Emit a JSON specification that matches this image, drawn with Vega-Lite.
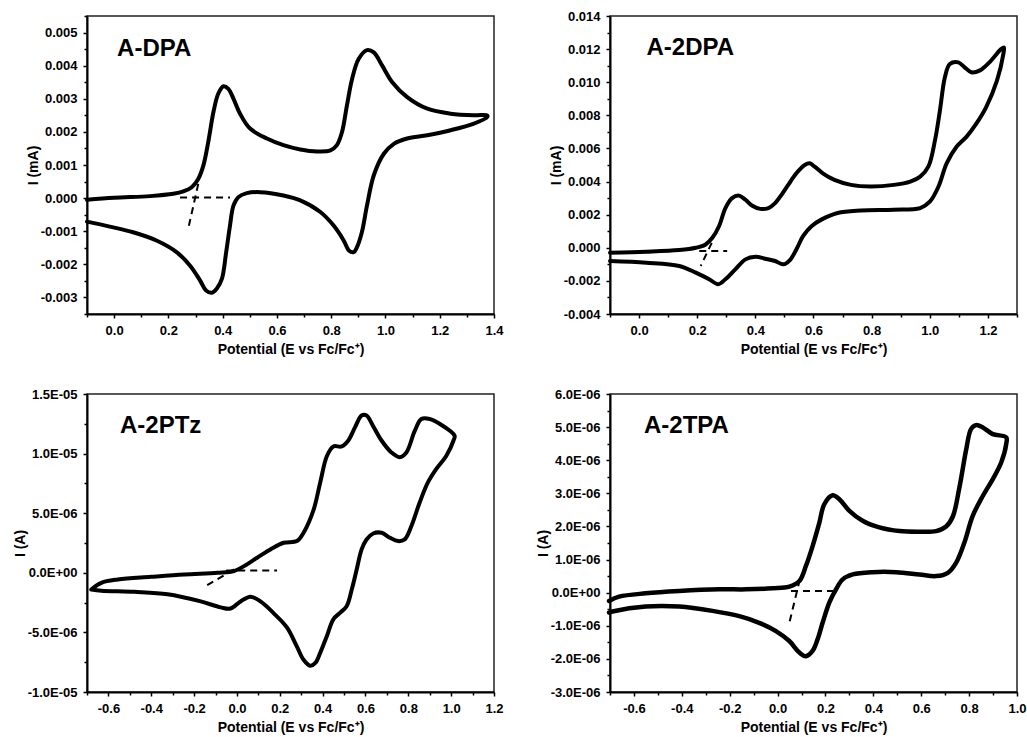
{
"$schema": "https://vega.github.io/schema/vega-lite/v6.json",
"padding": {"left": 12, "top": 9, "right": 5, "bottom": 0},
"columns": 2,
"bounds": "flush",
"spacing": {"row": 80, "column": 116},
"config": {
  "font": "Liberation Sans",
  "locale": {"number": {"decimal": ".", "thousands": ",", "grouping": [3], "currency": ["$", ""], "minus": "-"}},
  "view": {"stroke": "#222222", "strokeWidth": 1.5},
  "axis": {"grid": false, "domainColor": "black", "domainWidth": 2, "tickColor": "black", "tickWidth": 1.5,
    "labelFont": "Liberation Sans", "labelFontSize": 13, "labelFontWeight": "bold", "labelColor": "black",
    "titleFont": "Liberation Sans", "titleFontSize": 14, "titleFontWeight": "bold", "titleColor": "black",
    "labelPadding": 6, "labelOverlap": false, "labelFlush": false, "labelBound": false},
  "axisX": {"titlePadding": 5},
  "axisY": {"titlePadding": 0}
},
"datasets": {
"p1": [
{"i":0,"x":-0.1,"y":-0.00005},{"i":1,"x":0.0,"y":0.00001},{"i":2,"x":0.132,"y":0.00006},{"i":3,"x":0.218,"y":0.00013},{"i":4,"x":0.255,"y":0.0002},{"i":5,"x":0.286,"y":0.00033},{"i":6,"x":0.31,"y":0.00058},{"i":7,"x":0.329,"y":0.00099},{"i":8,"x":0.347,"y":0.0017},{"i":9,"x":0.366,"y":0.0026},{"i":10,"x":0.384,"y":0.00316},{"i":11,"x":0.403,"y":0.00338},{"i":12,"x":0.421,"y":0.0033},{"i":13,"x":0.44,"y":0.003},{"i":14,"x":0.464,"y":0.00255},{"i":15,"x":0.501,"y":0.0021},{"i":16,"x":0.563,"y":0.0018},{"i":17,"x":0.624,"y":0.0016},{"i":18,"x":0.686,"y":0.00147},{"i":19,"x":0.748,"y":0.00141},{"i":20,"x":0.797,"y":0.00144},{"i":21,"x":0.821,"y":0.0016},{"i":22,"x":0.84,"y":0.002},{"i":23,"x":0.858,"y":0.0028},{"i":24,"x":0.877,"y":0.0036},{"i":25,"x":0.901,"y":0.0042},{"i":26,"x":0.932,"y":0.00447},{"i":27,"x":0.957,"y":0.0044},{"i":28,"x":0.988,"y":0.004},{"i":29,"x":1.025,"y":0.0035},{"i":30,"x":1.08,"y":0.00305},{"i":31,"x":1.154,"y":0.0027},{"i":32,"x":1.24,"y":0.00255},{"i":33,"x":1.326,"y":0.0025},{"i":34,"x":1.375,"y":0.0025},
{"i":35,"x":1.375,"y":0.00245},{"i":36,"x":1.326,"y":0.00225},{"i":37,"x":1.24,"y":0.00205},{"i":38,"x":1.154,"y":0.0019},{"i":39,"x":1.08,"y":0.0018},{"i":40,"x":1.031,"y":0.00164},{"i":41,"x":0.994,"y":0.00134},{"i":42,"x":0.957,"y":0.00069},{"i":43,"x":0.932,"y":-0.00022},{"i":44,"x":0.913,"y":-0.00103},{"i":45,"x":0.895,"y":-0.00148},{"i":46,"x":0.883,"y":-0.00163},{"i":47,"x":0.865,"y":-0.00158},{"i":48,"x":0.846,"y":-0.00128},{"i":49,"x":0.809,"y":-0.00083},{"i":50,"x":0.76,"y":-0.00042},{"i":51,"x":0.686,"y":-0.00007},{"i":52,"x":0.624,"y":0.00008},{"i":53,"x":0.538,"y":0.00018},{"i":54,"x":0.489,"y":0.00015},{"i":55,"x":0.458,"y":0.00003},{"i":56,"x":0.44,"y":-0.00022},{"i":57,"x":0.427,"y":-0.00083},{"i":58,"x":0.413,"y":-0.00163},{"i":59,"x":0.397,"y":-0.00244},{"i":60,"x":0.378,"y":-0.00274},{"i":61,"x":0.36,"y":-0.00286},{"i":62,"x":0.339,"y":-0.00279},{"i":63,"x":0.317,"y":-0.00249},{"i":64,"x":0.28,"y":-0.00204},{"i":65,"x":0.23,"y":-0.00163},{"i":66,"x":0.156,"y":-0.00128},{"i":67,"x":0.07,"y":-0.00103},{"i":68,"x":-0.016,"y":-0.00086},{"i":69,"x":-0.1,"y":-0.00071}
],
"p1d": [
{"seg":"h","i":0,"x":0.243,"y":0.00002},{"seg":"h","i":1,"x":0.427,"y":0.00002},
{"seg":"t","i":0,"x":0.31,"y":0.00043},{"seg":"t","i":1,"x":0.273,"y":-0.00093}
],
"p2": [
{"i":0,"x":-0.1,"y":-0.0003},{"i":1,"x":0.025,"y":-0.00024},{"i":2,"x":0.138,"y":-0.00014},{"i":3,"x":0.195,"y":0.0},{"i":4,"x":0.229,"y":0.0002},{"i":5,"x":0.252,"y":0.0006},{"i":6,"x":0.275,"y":0.0013},{"i":7,"x":0.297,"y":0.0024},{"i":8,"x":0.32,"y":0.003},{"i":9,"x":0.343,"y":0.00315},{"i":10,"x":0.366,"y":0.0029},{"i":11,"x":0.388,"y":0.00255},{"i":12,"x":0.417,"y":0.00235},{"i":13,"x":0.445,"y":0.0024},{"i":14,"x":0.468,"y":0.0027},{"i":15,"x":0.49,"y":0.0032},{"i":16,"x":0.513,"y":0.0038},{"i":17,"x":0.541,"y":0.0045},{"i":18,"x":0.57,"y":0.005},{"i":19,"x":0.587,"y":0.0051},{"i":20,"x":0.604,"y":0.0049},{"i":21,"x":0.632,"y":0.0045},{"i":22,"x":0.672,"y":0.0041},{"i":23,"x":0.729,"y":0.0038},{"i":24,"x":0.797,"y":0.0037},{"i":25,"x":0.876,"y":0.0038},{"i":26,"x":0.933,"y":0.004},{"i":27,"x":0.967,"y":0.0043},{"i":28,"x":0.995,"y":0.0049},{"i":29,"x":1.018,"y":0.0065},{"i":30,"x":1.035,"y":0.0083},{"i":31,"x":1.052,"y":0.0103},{"i":32,"x":1.069,"y":0.0111},{"i":33,"x":1.098,"y":0.0112},{"i":34,"x":1.12,"y":0.0109},{"i":35,"x":1.143,"y":0.0106},{"i":36,"x":1.171,"y":0.0107},{"i":37,"x":1.205,"y":0.0112},{"i":38,"x":1.245,"y":0.012},{"i":39,"x":1.255,"y":0.0121},
{"i":40,"x":1.253,"y":0.0117},{"i":41,"x":1.231,"y":0.0101},{"i":42,"x":1.194,"y":0.0085},{"i":43,"x":1.16,"y":0.0075},{"i":44,"x":1.126,"y":0.0067},{"i":45,"x":1.092,"y":0.0061},{"i":46,"x":1.058,"y":0.0051},{"i":47,"x":1.03,"y":0.0037},{"i":48,"x":1.001,"y":0.0028},{"i":49,"x":0.967,"y":0.0024},{"i":50,"x":0.876,"y":0.0023},{"i":51,"x":0.763,"y":0.00225},{"i":52,"x":0.683,"y":0.0021},{"i":53,"x":0.627,"y":0.0017},{"i":54,"x":0.593,"y":0.0013},{"i":55,"x":0.564,"y":0.0007},{"i":56,"x":0.541,"y":-0.0001},{"i":57,"x":0.519,"y":-0.00074},{"i":58,"x":0.496,"y":-0.001},{"i":59,"x":0.468,"y":-0.0008},{"i":60,"x":0.434,"y":-0.00066},{"i":61,"x":0.4,"y":-0.00054},{"i":62,"x":0.366,"y":-0.0007},{"i":63,"x":0.331,"y":-0.0013},{"i":64,"x":0.297,"y":-0.0019},{"i":65,"x":0.272,"y":-0.0022},{"i":66,"x":0.241,"y":-0.0019},{"i":67,"x":0.195,"y":-0.0015},{"i":68,"x":0.138,"y":-0.0011},{"i":69,"x":0.025,"y":-0.0009},{"i":70,"x":-0.1,"y":-0.0008}
],
"p2d": [
{"seg":"h","i":0,"x":0.207,"y":-0.0002},{"seg":"h","i":1,"x":0.303,"y":-0.0002},
{"seg":"t","i":0,"x":0.25,"y":0.0003},{"seg":"t","i":1,"x":0.212,"y":-0.0011}
],
"p3": [
{"i":0,"x":-0.68,"y":-1.4e-6},{"i":1,"x":-0.633,"y":-0.84e-6},{"i":2,"x":-0.556,"y":-0.56e-6},{"i":3,"x":-0.401,"y":-0.34e-6},{"i":4,"x":-0.246,"y":-0.14e-6},{"i":5,"x":-0.091,"y":0.0},{"i":6,"x":-0.014,"y":0.14e-6},{"i":7,"x":0.033,"y":0.56e-6},{"i":8,"x":0.094,"y":1.26e-6},{"i":9,"x":0.156,"y":1.96e-6},{"i":10,"x":0.218,"y":2.52e-6},{"i":11,"x":0.28,"y":2.66e-6},{"i":12,"x":0.311,"y":3.36e-6},{"i":13,"x":0.358,"y":5.3e-6},{"i":14,"x":0.389,"y":7.6e-6},{"i":15,"x":0.42,"y":9.8e-6},{"i":16,"x":0.45,"y":10.6e-6},{"i":17,"x":0.489,"y":10.6e-6},{"i":18,"x":0.52,"y":11.1e-6},{"i":19,"x":0.551,"y":12.2e-6},{"i":20,"x":0.582,"y":13.2e-6},{"i":21,"x":0.605,"y":13.2e-6},{"i":22,"x":0.636,"y":12.3e-6},{"i":23,"x":0.675,"y":11.1e-6},{"i":24,"x":0.721,"y":10.1e-6},{"i":25,"x":0.76,"y":9.7e-6},{"i":26,"x":0.791,"y":10.1e-6},{"i":27,"x":0.83,"y":11.9e-6},{"i":28,"x":0.861,"y":12.9e-6},{"i":29,"x":0.9,"y":12.9e-6},{"i":30,"x":0.946,"y":12.5e-6},{"i":31,"x":1.016,"y":11.5e-6},
{"i":32,"x":1.011,"y":11.1e-6},{"i":33,"x":0.977,"y":9.8e-6},{"i":34,"x":0.93,"y":8.7e-6},{"i":35,"x":0.892,"y":7.6e-6},{"i":36,"x":0.853,"y":5.9e-6},{"i":37,"x":0.814,"y":3.9e-6},{"i":38,"x":0.783,"y":2.8e-6},{"i":39,"x":0.752,"y":2.66e-6},{"i":40,"x":0.714,"y":2.94e-6},{"i":41,"x":0.675,"y":3.36e-6},{"i":42,"x":0.636,"y":3.3e-6},{"i":43,"x":0.605,"y":2.8e-6},{"i":44,"x":0.582,"y":1.96e-6},{"i":45,"x":0.559,"y":0.28e-6},{"i":46,"x":0.536,"y":-1.4e-6},{"i":47,"x":0.512,"y":-2.8e-6},{"i":48,"x":0.481,"y":-3.36e-6},{"i":49,"x":0.45,"y":-3.9e-6},{"i":50,"x":0.42,"y":-5.3e-6},{"i":51,"x":0.389,"y":-6.7e-6},{"i":52,"x":0.366,"y":-7.56e-6},{"i":53,"x":0.342,"y":-7.8e-6},{"i":54,"x":0.311,"y":-7.3e-6},{"i":55,"x":0.28,"y":-6.2e-6},{"i":56,"x":0.234,"y":-4.6e-6},{"i":57,"x":0.172,"y":-3.4e-6},{"i":58,"x":0.11,"y":-2.4e-6},{"i":59,"x":0.063,"y":-2.0e-6},{"i":60,"x":0.017,"y":-2.4e-6},{"i":61,"x":-0.03,"y":-3.0e-6},{"i":62,"x":-0.076,"y":-2.9e-6},{"i":63,"x":-0.169,"y":-2.4e-6},{"i":64,"x":-0.324,"y":-1.8e-6},{"i":65,"x":-0.478,"y":-1.6e-6},{"i":66,"x":-0.633,"y":-1.5e-6},{"i":67,"x":-0.68,"y":-1.4e-6}
],
"p3d": [
{"seg":"h","i":0,"x":-0.05,"y":0.2e-6},{"seg":"h","i":1,"x":0.187,"y":0.2e-6},
{"seg":"t","i":0,"x":-0.014,"y":0.28e-6},{"seg":"t","i":1,"x":-0.153,"y":-1.18e-6}
],
"p4": [
{"i":0,"x":-0.704,"y":-0.25e-6},{"i":1,"x":-0.662,"y":-0.12e-6},{"i":2,"x":-0.551,"y":-0.02e-6},{"i":3,"x":-0.411,"y":0.05e-6},{"i":4,"x":-0.244,"y":0.1e-6},{"i":5,"x":-0.132,"y":0.1e-6},{"i":6,"x":-0.021,"y":0.13e-6},{"i":7,"x":0.049,"y":0.18e-6},{"i":8,"x":0.091,"y":0.35e-6},{"i":9,"x":0.118,"y":0.8e-6},{"i":10,"x":0.146,"y":1.4e-6},{"i":11,"x":0.174,"y":2.1e-6},{"i":12,"x":0.195,"y":2.67e-6},{"i":13,"x":0.23,"y":2.94e-6},{"i":14,"x":0.258,"y":2.82e-6},{"i":15,"x":0.3,"y":2.47e-6},{"i":16,"x":0.355,"y":2.17e-6},{"i":17,"x":0.425,"y":1.97e-6},{"i":18,"x":0.509,"y":1.86e-6},{"i":19,"x":0.592,"y":1.84e-6},{"i":20,"x":0.662,"y":1.86e-6},{"i":21,"x":0.704,"y":2.0e-6},{"i":22,"x":0.732,"y":2.3e-6},{"i":23,"x":0.76,"y":3.2e-6},{"i":24,"x":0.788,"y":4.33e-6},{"i":25,"x":0.808,"y":4.94e-6},{"i":26,"x":0.829,"y":5.06e-6},{"i":27,"x":0.857,"y":4.99e-6},{"i":28,"x":0.899,"y":4.79e-6},{"i":29,"x":0.955,"y":4.69e-6},
{"i":30,"x":0.955,"y":4.49e-6},{"i":31,"x":0.934,"y":3.93e-6},{"i":32,"x":0.899,"y":3.43e-6},{"i":33,"x":0.857,"y":2.92e-6},{"i":34,"x":0.815,"y":2.32e-6},{"i":35,"x":0.78,"y":1.51e-6},{"i":36,"x":0.746,"y":0.91e-6},{"i":37,"x":0.711,"y":0.6e-6},{"i":38,"x":0.662,"y":0.5e-6},{"i":39,"x":0.592,"y":0.55e-6},{"i":40,"x":0.495,"y":0.62e-6},{"i":41,"x":0.397,"y":0.62e-6},{"i":42,"x":0.314,"y":0.55e-6},{"i":43,"x":0.272,"y":0.4e-6},{"i":44,"x":0.244,"y":0.1e-6},{"i":45,"x":0.216,"y":-0.3e-6},{"i":46,"x":0.188,"y":-0.91e-6},{"i":47,"x":0.167,"y":-1.41e-6},{"i":48,"x":0.146,"y":-1.76e-6},{"i":49,"x":0.118,"y":-1.92e-6},{"i":50,"x":0.091,"y":-1.81e-6},{"i":51,"x":0.049,"y":-1.46e-6},{"i":52,"x":-0.007,"y":-1.16e-6},{"i":53,"x":-0.077,"y":-0.91e-6},{"i":54,"x":-0.16,"y":-0.71e-6},{"i":55,"x":-0.272,"y":-0.55e-6},{"i":56,"x":-0.411,"y":-0.42e-6},{"i":57,"x":-0.551,"y":-0.42e-6},{"i":58,"x":-0.69,"y":-0.57e-6},{"i":59,"x":-0.704,"y":-0.6e-6}
],
"p4d": [
{"seg":"h","i":0,"x":0.056,"y":0.05e-6},{"seg":"h","i":1,"x":0.251,"y":0.05e-6},
{"seg":"t","i":0,"x":0.093,"y":0.4e-6},{"seg":"t","i":1,"x":0.046,"y":-1.0e-6}
]
},
"concat": [
{
 "width": 407, "height": 298,
 "encoding": {
  "x": {"field": "x", "type": "quantitative", "title": "Potential (E vs Fc/Fc⁺)",
    "scale": {"domain": [-0.1, 1.4], "nice": false, "zero": false},
    "axis": {"values": [-0.1,0,0.1,0.2,0.3,0.4,0.5,0.6,0.7,0.8,0.9,1.0,1.1,1.2,1.3,1.4],
      "labelExpr": "abs(datum.value*5-round(datum.value*5))<0.01 ? format(datum.value,'.1f') : ''",
      "tickSize": {"condition": {"test": "abs(datum.value*5-round(datum.value*5))<0.01", "value": 4}, "value": 3}}},
  "y": {"field": "y", "type": "quantitative", "title": "I (mA)",
    "scale": {"domain": [-0.0035, 0.0055], "nice": false, "zero": false},
    "axis": {"values": [-0.0035,-0.003,-0.0025,-0.002,-0.0015,-0.001,-0.0005,0,0.0005,0.001,0.0015,0.002,0.0025,0.003,0.0035,0.004,0.0045,0.005,0.0055],
      "labelExpr": "abs(datum.value*1000-round(datum.value*1000))<0.01 ? format(datum.value,'.3f') : ''",
      "tickSize": {"condition": {"test": "abs(datum.value*1000-round(datum.value*1000))<0.01", "value": 4}, "value": 3}}}
 },
 "layer": [
  {"data": {"name": "p1"}, "mark": {"type": "line", "color": "black", "strokeWidth": 4, "interpolate": "catmull-rom", "strokeJoin": "round", "strokeCap": "round"}, "encoding": {"order": {"field": "i", "type": "quantitative"}}},
  {"data": {"name": "p1d"}, "mark": {"type": "line", "color": "black", "strokeWidth": 2, "strokeDash": [7, 5]}, "encoding": {"detail": {"field": "seg"}, "order": {"field": "i", "type": "quantitative"}}},
  {"data": {"values": [{"x": 0.011, "y": 0.00429, "label": "A-DPA"}]}, "mark": {"type": "text", "align": "left", "baseline": "alphabetic", "fontSize": 24, "fontWeight": "bold", "font": "Liberation Sans", "color": "black"}, "encoding": {"text": {"field": "label"}}}
 ]
},
{
 "width": 407, "height": 298,
 "encoding": {
  "x": {"field": "x", "type": "quantitative", "title": "Potential (E vs Fc/Fc⁺)",
    "scale": {"domain": [-0.1, 1.3], "nice": false, "zero": false},
    "axis": {"values": [-0.1,0,0.1,0.2,0.3,0.4,0.5,0.6,0.7,0.8,0.9,1.0,1.1,1.2,1.3],
      "labelExpr": "abs(datum.value*5-round(datum.value*5))<0.01 ? format(datum.value,'.1f') : ''",
      "tickSize": {"condition": {"test": "abs(datum.value*5-round(datum.value*5))<0.01", "value": 4}, "value": 3}}},
  "y": {"field": "y", "type": "quantitative", "title": "I (mA)",
    "scale": {"domain": [-0.004, 0.014], "nice": false, "zero": false},
    "axis": {"values": [-0.004,-0.003,-0.002,-0.001,0,0.001,0.002,0.003,0.004,0.005,0.006,0.007,0.008,0.009,0.01,0.011,0.012,0.013,0.014],
      "labelExpr": "abs(datum.value*500-round(datum.value*500))<0.01 ? format(datum.value,'.3f') : ''",
      "tickSize": {"condition": {"test": "abs(datum.value*500-round(datum.value*500))<0.01", "value": 4}, "value": 3}}}
 },
 "layer": [
  {"data": {"name": "p2"}, "mark": {"type": "line", "color": "black", "strokeWidth": 4, "interpolate": "catmull-rom", "strokeJoin": "round", "strokeCap": "round"}, "encoding": {"order": {"field": "i", "type": "quantitative"}}},
  {"data": {"name": "p2d"}, "mark": {"type": "line", "color": "black", "strokeWidth": 2, "strokeDash": [7, 5]}, "encoding": {"detail": {"field": "seg"}, "order": {"field": "i", "type": "quantitative"}}},
  {"data": {"values": [{"x": 0.0256, "y": 0.01164, "label": "A-2DPA"}]}, "mark": {"type": "text", "align": "left", "baseline": "alphabetic", "fontSize": 24, "fontWeight": "bold", "font": "Liberation Sans", "color": "black"}, "encoding": {"text": {"field": "label"}}}
 ]
},
{
 "width": 407, "height": 298,
 "encoding": {
  "x": {"field": "x", "type": "quantitative", "title": "Potential (E vs Fc/Fc⁺)",
    "scale": {"domain": [-0.7, 1.2], "nice": false, "zero": false},
    "axis": {"values": [-0.7,-0.6,-0.5,-0.4,-0.3,-0.2,-0.1,0,0.1,0.2,0.3,0.4,0.5,0.6,0.7,0.8,0.9,1.0,1.1,1.2],
      "labelExpr": "abs(datum.value*5-round(datum.value*5))<0.01 ? format(datum.value,'.1f') : ''",
      "tickSize": {"condition": {"test": "abs(datum.value*5-round(datum.value*5))<0.01", "value": 4}, "value": 3}}},
  "y": {"field": "y", "type": "quantitative", "title": "I (A)",
    "scale": {"domain": [-1e-5, 1.5e-5], "nice": false, "zero": false},
    "axis": {"values": [-1e-5,-7.5e-6,-5e-6,-2.5e-6,0,2.5e-6,5e-6,7.5e-6,1e-5,1.25e-5,1.5e-5],
      "labelExpr": "abs(datum.value*2e5-round(datum.value*2e5))<0.01 ? replace(replace(format(datum.value,'.1e'),'e-','E-0'),'e+','E+0') : ''",
      "tickSize": {"condition": {"test": "abs(datum.value*2e5-round(datum.value*2e5))<0.01", "value": 4}, "value": 3}}}
 },
 "layer": [
  {"data": {"name": "p3"}, "mark": {"type": "line", "color": "black", "strokeWidth": 4, "interpolate": "catmull-rom", "strokeJoin": "round", "strokeCap": "round"}, "encoding": {"order": {"field": "i", "type": "quantitative"}}},
  {"data": {"name": "p3d"}, "mark": {"type": "line", "color": "black", "strokeWidth": 2, "strokeDash": [7, 5]}, "encoding": {"detail": {"field": "seg"}, "order": {"field": "i", "type": "quantitative"}}},
  {"data": {"values": [{"x": -0.546, "y": 1.17e-5, "label": "A-2PTz"}]}, "mark": {"type": "text", "align": "left", "baseline": "alphabetic", "fontSize": 24, "fontWeight": "bold", "font": "Liberation Sans", "color": "black"}, "encoding": {"text": {"field": "label"}}}
 ]
},
{
 "width": 407, "height": 298,
 "encoding": {
  "x": {"field": "x", "type": "quantitative", "title": "Potential (E vs Fc/Fc⁺)",
    "scale": {"domain": [-0.7, 1.0], "nice": false, "zero": false},
    "axis": {"values": [-0.7,-0.6,-0.5,-0.4,-0.3,-0.2,-0.1,0,0.1,0.2,0.3,0.4,0.5,0.6,0.7,0.8,0.9,1.0],
      "labelExpr": "abs(datum.value*5-round(datum.value*5))<0.01 ? format(datum.value,'.1f') : ''",
      "tickSize": {"condition": {"test": "abs(datum.value*5-round(datum.value*5))<0.01", "value": 4}, "value": 3}}},
  "y": {"field": "y", "type": "quantitative", "title": "I (A)",
    "scale": {"domain": [-3e-6, 6e-6], "nice": false, "zero": false},
    "axis": {"values": [-3e-6,-2.5e-6,-2e-6,-1.5e-6,-1e-6,-5e-7,0,5e-7,1e-6,1.5e-6,2e-6,2.5e-6,3e-6,3.5e-6,4e-6,4.5e-6,5e-6,5.5e-6,6e-6],
      "labelExpr": "abs(datum.value*1e6-round(datum.value*1e6))<0.01 ? replace(replace(format(datum.value,'.1e'),'e-','E-0'),'e+','E+0') : ''",
      "tickSize": {"condition": {"test": "abs(datum.value*1e6-round(datum.value*1e6))<0.01", "value": 4}, "value": 3}}}
 },
 "layer": [
  {"data": {"name": "p4"}, "mark": {"type": "line", "color": "black", "strokeWidth": 4.5, "interpolate": "catmull-rom", "strokeJoin": "round", "strokeCap": "round"}, "encoding": {"order": {"field": "i", "type": "quantitative"}}},
  {"data": {"name": "p4d"}, "mark": {"type": "line", "color": "black", "strokeWidth": 2, "strokeDash": [7, 5]}, "encoding": {"detail": {"field": "seg"}, "order": {"field": "i", "type": "quantitative"}}},
  {"data": {"values": [{"x": -0.558, "y": 4.81e-6, "label": "A-2TPA"}]}, "mark": {"type": "text", "align": "left", "baseline": "alphabetic", "fontSize": 24, "fontWeight": "bold", "font": "Liberation Sans", "color": "black"}, "encoding": {"text": {"field": "label"}}}
 ]
}
]
}
